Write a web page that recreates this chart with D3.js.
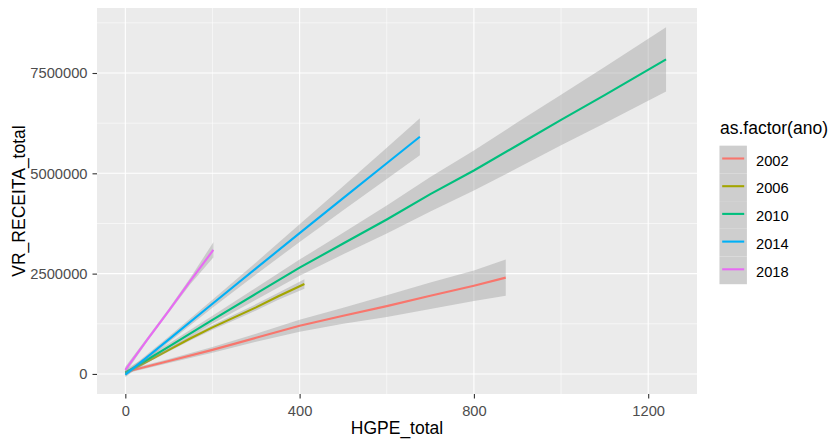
<!DOCTYPE html>
<html>
<head>
<meta charset="utf-8">
<script src="https://cdn.jsdelivr.net/npm/d3@7"></script>
<style>
  body { margin: 0; background: #fff; }
  svg { display: block; font-family: "Liberation Sans", Arial, sans-serif; }
</style>
</head>
<body>
<script>
// years (legend groups) and their ggplot hue colours
const anos = ["2002", "2006", "2010", "2014", "2018"];
const colors = ["#F8766D", "#A3A500", "#00BF7D", "#00B0F6", "#E76BF3"];

// HGPE_total positions of each fitted curve
const x2002 = [0, 100, 200, 300, 400, 500, 600, 700, 800, 873];
const x2006 = [0, 50, 100, 150, 200, 250, 300, 350, 411];
const x2010 = [0, 100, 200, 300, 400, 500, 600, 700, 800, 900, 1000, 1100, 1241];
const x2014 = [0, 100, 200, 300, 400, 500, 600, 676];
const x2018 = [0, 50, 100, 150, 202];

// fitted VR_RECEITA_total
const fit2002 = [50000, 320000, 600000, 900000, 1200000, 1450000, 1690000, 1950000, 2200000, 2400000];
const fit2006 = [20000, 310000, 600000, 890000, 1160000, 1410000, 1660000, 1930000, 2240000];
const fit2010 = [30000, 680000, 1350000, 2000000, 2650000, 3250000, 3850000, 4480000, 5070000, 5700000, 6330000, 6950000, 7840000];
const fit2014 = [-20000, 860000, 1750000, 2630000, 3510000, 4380000, 5250000, 5910000];
const fit2018 = [100000, 850000, 1580000, 2330000, 3090000];

// confidence band, lower edge
const lo2002 = [10000, 270000, 530000, 800000, 1050000, 1250000, 1420000, 1620000, 1820000, 1950000];
const lo2006 = [-20000, 270000, 560000, 840000, 1100000, 1340000, 1580000, 1840000, 2120000];
const lo2010 = [-50000, 600000, 1250000, 1850000, 2450000, 2980000, 3500000, 4050000, 4570000, 5130000, 5700000, 6250000, 7040000];
const lo2014 = [-80000, 790000, 1650000, 2480000, 3290000, 4080000, 4860000, 5450000];
const lo2018 = [20000, 800000, 1530000, 2250000, 2900000];

// confidence band, upper edge
const hi2002 = [90000, 370000, 670000, 1000000, 1350000, 1650000, 1960000, 2280000, 2580000, 2850000];
const hi2006 = [60000, 350000, 640000, 940000, 1220000, 1480000, 1740000, 2020000, 2360000];
const hi2010 = [110000, 760000, 1450000, 2150000, 2850000, 3520000, 4200000, 4910000, 5570000, 6270000, 6960000, 7650000, 8640000];
const hi2014 = [40000, 930000, 1850000, 2780000, 3730000, 4680000, 5640000, 6370000];
const hi2018 = [180000, 900000, 1630000, 2410000, 3280000];

const xTicks = [0, 400, 800, 1200];
const xMinor = [200, 600, 1000];
const yTicks = [0, 2500000, 5000000, 7500000];
const yMinor = [1250000, 3750000, 6250000, 8750000];

const xs = [x2002, x2006, x2010, x2014, x2018];
const fits = [fit2002, fit2006, fit2010, fit2014, fit2018];
const los = [lo2002, lo2006, lo2010, lo2014, lo2018];
const his = [hi2002, hi2006, hi2010, hi2014, hi2018];

const series = anos.map((a, i) =>
  xs[i].map((x, j) => ({ x, y: fits[i][j], lo: los[i][j], hi: his[i][j] }))
);

const width = 832, height = 440;
const panel = { left: 97, right: 697, top: 8, bottom: 394 };
const tickFont = "14.7px", titleFont = "17.5px";

const x = d3.scaleLinear().domain([-65, 1312]).range([panel.left, panel.right]);
const y = d3.scaleLinear().domain([-500000, 9120000]).range([panel.bottom, panel.top]);

const svg = d3.select("body").append("svg")
  .attr("width", width)
  .attr("height", height);

// panel background
svg.append("rect")
  .attr("x", panel.left).attr("y", panel.top)
  .attr("width", panel.right - panel.left)
  .attr("height", panel.bottom - panel.top)
  .attr("fill", "#EBEBEB");

// grid
const grid = svg.append("g").attr("stroke", "#fff");
grid.selectAll(".xmin").data(xMinor).join("line")
  .attr("x1", d => x(d)).attr("x2", d => x(d))
  .attr("y1", panel.top).attr("y2", panel.bottom)
  .attr("stroke-width", 0.55);
grid.selectAll(".ymin").data(yMinor).join("line")
  .attr("y1", d => y(d)).attr("y2", d => y(d))
  .attr("x1", panel.left).attr("x2", panel.right)
  .attr("stroke-width", 0.55);
grid.selectAll(".xmaj").data(xTicks).join("line")
  .attr("x1", d => x(d)).attr("x2", d => x(d))
  .attr("y1", panel.top).attr("y2", panel.bottom)
  .attr("stroke-width", 1.1);
grid.selectAll(".ymaj").data(yTicks).join("line")
  .attr("y1", d => y(d)).attr("y2", d => y(d))
  .attr("x1", panel.left).attr("x2", panel.right)
  .attr("stroke-width", 1.1);

// smooths: ribbon then line, per group
const area = d3.area().x(d => x(d.x)).y0(d => y(d.lo)).y1(d => y(d.hi));
const line = d3.line().x(d => x(d.x)).y(d => y(d.y));

series.forEach((s, i) => {
  svg.append("path")
    .attr("d", area(s))
    .attr("fill", "#999999")
    .attr("fill-opacity", 0.4);
  svg.append("path")
    .attr("d", line(s))
    .attr("fill", "none")
    .attr("stroke", colors[i])
    .attr("stroke-width", 2.1);
});

// axes
const xAxis = d3.axisBottom(x).tickValues(xTicks).tickSize(4.5).tickPadding(7).tickFormat(d3.format("d"));
const yAxis = d3.axisLeft(y).tickValues(yTicks).tickSize(4.5).tickPadding(5).tickFormat(d3.format("d"));

const gx = svg.append("g").attr("transform", `translate(0,${panel.bottom})`).call(xAxis);
const gy = svg.append("g").attr("transform", `translate(${panel.left},0)`).call(yAxis);
[gx, gy].forEach(g => {
  g.select(".domain").remove();
  g.selectAll(".tick line").attr("stroke", "#333333").attr("stroke-width", 1.1);
  g.selectAll(".tick text")
    .attr("fill", "#4D4D4D")
    .attr("font-size", tickFont)
    .attr("font-family", "Liberation Sans, Arial, sans-serif");
});

// axis titles
svg.append("text")
  .attr("x", (panel.left + panel.right) / 2)
  .attr("y", 433.5)
  .attr("text-anchor", "middle")
  .attr("font-size", titleFont)
  .attr("fill", "#000")
  .text("HGPE_total");

svg.append("text")
  .attr("transform", `translate(24.5,${(panel.top + panel.bottom) / 2}) rotate(-90)`)
  .attr("text-anchor", "middle")
  .attr("font-size", titleFont)
  .attr("fill", "#000")
  .text("VR_RECEITA_total");

// legend
const legend = svg.append("g").attr("transform", "translate(719.5,0)");
legend.append("text")
  .attr("x", 0.5).attr("y", 134.3)
  .attr("font-size", titleFont)
  .attr("fill", "#000")
  .text("as.factor(ano)");

const keyH = 27.7;
const keys = legend.selectAll(".key").data(anos).join("g")
  .attr("transform", (d, i) => `translate(0,${145.7 + i * keyH})`);
keys.append("rect")
  .attr("width", 27.4).attr("height", keyH)
  .attr("fill", "#F2F2F2");
keys.append("rect")
  .attr("width", 27.4).attr("height", keyH)
  .attr("fill", "#999999")
  .attr("fill-opacity", 0.4);
keys.append("line")
  .attr("x1", 2.7).attr("x2", 24.7)
  .attr("y1", 12.8).attr("y2", 12.8)
  .attr("stroke", (d, i) => colors[i])
  .attr("stroke-width", 2.1);
keys.append("text")
  .attr("x", 36.5).attr("y", 20)
  .attr("font-size", tickFont)
  .attr("fill", "#000")
  .text(d => d);
</script>
</body>
</html>
